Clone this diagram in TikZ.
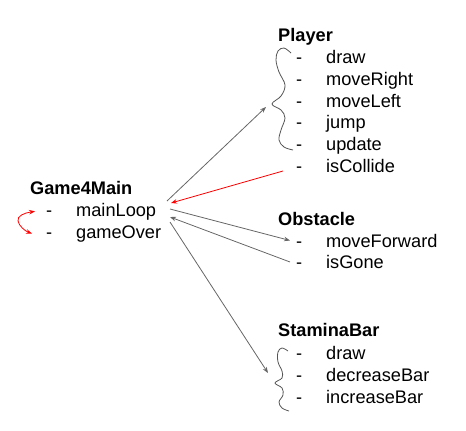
\documentclass[tikz,border=0pt]{standalone}
\usepackage{fontspec}
\setmainfont{Liberation Sans}
\usetikzlibrary{arrows.meta}
\definecolor{arrowgrey}{HTML}{666666}
\definecolor{arrowred}{HTML}{FF0000}
\definecolor{bracegrey}{HTML}{555555}
\newcommand\itm[1]{\makebox[30pt][l]{-}#1}
\begin{document}
\begin{tikzpicture}[x=1pt,y=-1pt,
  txt/.style={anchor=base west,inner sep=0pt,font=\fontsize{18.2}{21}\selectfont},
  head/.style={anchor=base west,inner sep=0pt,font=\fontsize{18.2}{21}\selectfont\bfseries},
  tip/.style={-{Stealth[length=6pt,width=4.5pt]}},
  conn/.style={draw=arrowgrey,line width=0.8pt,tip},
  redconn/.style={draw=arrowred,line width=0.8pt,tip},
  bracepath/.style={draw=bracegrey,line width=0.8pt}]
\useasboundingbox (0,0) rectangle (466,431);

% Game4Main
\node[head] (g4m) at (30,194) {Game4Main};
\node[txt] (mainloop) at (46,216) {\itm{mainLoop}};
\node[txt] (gameover) at (46,238) {\itm{gameOver}};

% Player
\node[head] (player) at (278,41) {Player};
\node[txt] (pdraw) at (296,63) {\itm{draw}};
\node[txt] (pright) at (296,85) {\itm{moveRight}};
\node[txt] (pleft) at (296,107) {\itm{moveLeft}};
\node[txt] (pjump) at (296,128.5) {\itm{jump}};
\node[txt] (pupdate) at (296,150.5) {\itm{update}};
\node[txt] (pcollide) at (296,172) {\itm{isCollide}};

% Obstacle
\node[head] (obstacle) at (278,225) {Obstacle};
\node[txt] (oforward) at (296,247) {\itm{moveForward}};
\node[txt] (ogone) at (296,268.5) {\itm{isGone}};

% StaminaBar
\node[head] (stamina) at (278,336) {StaminaBar};
\node[txt] (sdraw) at (296,359) {\itm{draw}};
\node[txt] (sdec) at (296,381) {\itm{decreaseBar}};
\node[txt] (sinc) at (296,403) {\itm{increaseBar}};

% braces
\draw[bracepath] plot[smooth,tension=0.6] coordinates {(291,53) (284,48) (278,51) (276,60) (279,72) (285,85) (281,96) (272,104) (281,110) (285,118) (281,130) (279,140) (284,147) (293,150)};
\draw[bracepath] plot[smooth,tension=0.6] coordinates {(288,351) (282,348) (278,352) (278,362) (282,371) (282,378) (275,383) (282,388) (283,395) (279,402) (282,408) (289,411)};

% connector end points
\coordinate (gA) at (167,201);
\coordinate (gB) at (171,203);
\coordinate (gC) at (170,209);
\coordinate (gD) at (170,217);
\coordinate (gE) at (170,222);
\coordinate (pbrace) at (266,107);
\coordinate (pcol) at (283,171);
\coordinate (sbrace) at (268,373);

\draw[conn] (gA) -- (pbrace);
\draw[redconn] (pcol) -- (gB);
\draw[conn] (gC) -- ([xshift=-6pt]oforward.west);
\draw[conn] ([xshift=-6pt]ogone.west) -- (gD);
\draw[conn] (gE) -- (sbrace);

% self arrow
\draw[draw=arrowred,line width=0.8pt,{Stealth[length=6pt,width=4.5pt]}-{Stealth[length=6pt,width=4.5pt]}]
  ([xshift=-11pt]mainloop.west) .. controls (24,213) and (17,216) .. (18,221)
  .. controls (19,226) and (25,231) .. ([xshift=-14pt]gameover.west);
\end{tikzpicture}
\end{document}
